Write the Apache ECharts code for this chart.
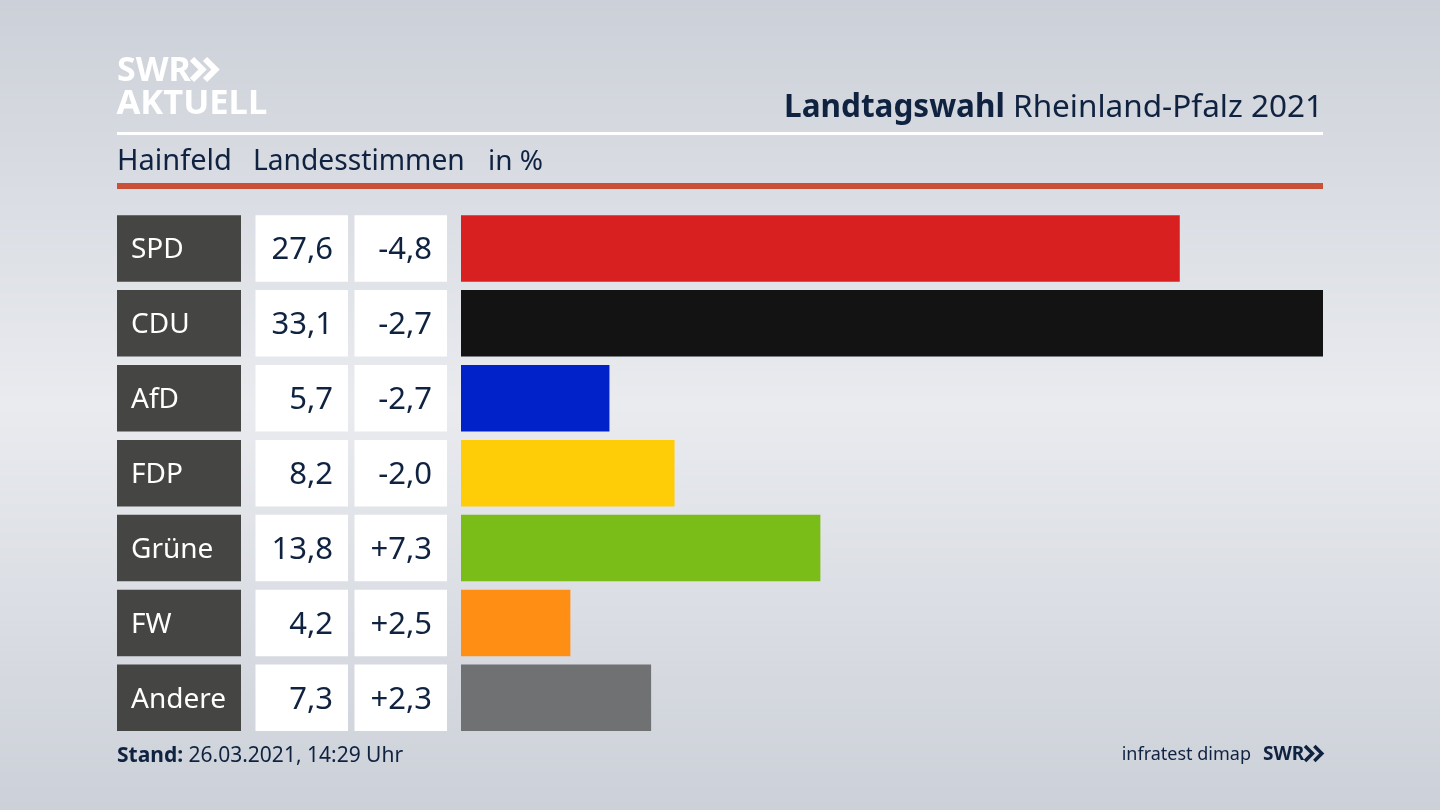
<!DOCTYPE html>
<html>
<head>
<meta charset="utf-8">
<title>Landtagswahl Rheinland-Pfalz 2021</title>
<style>
html, body { margin: 0; padding: 0; }
#chart { width: 1440px; height: 810px; }
</style>
<script src="https://cdn.jsdelivr.net/npm/echarts@6/dist/echarts.min.js"></script>
</head>
<body>
<div id="chart"></div>
<script>
const parties = ['SPD', 'CDU', 'AfD', 'FDP', 'Grüne', 'FW', 'Andere'];
const shares = [27.6, 33.1, 5.7, 8.2, 13.8, 4.2, 7.3];
const changes = [-4.8, -2.7, -2.7, -2.0, 7.3, 2.5, 2.3];
const partyColors = ['#d7201f', '#131313', '#0022c8', '#ffcc08', '#7abd18', '#ff8f14', '#707173'];

const navy = '#0f2240';
const fontName = 'Noto Sans';
const formatNum = v => v.toFixed(1).replace('.', ',');
const formatChange = v => (v > 0 ? '+' : '-') + formatNum(Math.abs(v));

// die Zeilen liegen in allen vier Spalten gleich
const rowTop = 211;
const rowBand = 74.9;
const barH = 66.5;
const columns = [
    {left: 117, width: 124},
    {left: 255.5, width: 92.5},
    {left: 354.5, width: 92.5},
    {left: 461, width: 862}
];

const grid = columns.map(c => ({
    left: c.left, width: c.width, top: rowTop, height: rowBand * parties.length
}));
const xAxis = columns.map((c, i) => ({
    type: 'value', gridIndex: i, min: 0, max: i === 3 ? 33.1 : 1, show: false
}));
const yAxis = columns.map((c, i) => ({
    type: 'category', gridIndex: i, data: parties, inverse: true, show: false
}));

function cellSeries(index, color, label) {
    return {
        type: 'bar',
        xAxisIndex: index,
        yAxisIndex: index,
        barWidth: barH,
        silent: true,
        animation: false,
        itemStyle: {color: color},
        label: label,
        data: parties.map(() => 1)
    };
}

const cellLabel = (formatter) => ({
    show: true,
    position: 'insideRight',
    distance: 15,
    offset: [0, 2],
    color: navy,
    fontFamily: fontName,
    fontSize: 31,
    formatter: formatter
});

const series = [
    cellSeries(0, '#454543', {
        show: true,
        position: 'insideLeft',
        distance: 14,
        offset: [0, 2],
        color: '#ffffff',
        fontFamily: fontName,
        fontSize: 28,
        formatter: p => parties[p.dataIndex]
    }),
    cellSeries(1, '#ffffff', cellLabel(p => formatNum(shares[p.dataIndex]))),
    cellSeries(2, '#ffffff', cellLabel(p => formatChange(changes[p.dataIndex]))),
    {
        type: 'bar',
        xAxisIndex: 3,
        yAxisIndex: 3,
        barWidth: barH,
        silent: true,
        animation: false,
        data: shares.map((v, i) => ({value: v, itemStyle: {color: partyColors[i]}}))
    }
];

function text(x, y, str, size, opts) {
    return {
        type: 'text',
        x: x,
        y: y,
        style: Object.assign({
            text: str,
            fill: navy,
            fontFamily: fontName,
            fontSize: size,
            textVerticalAlign: 'middle'
        }, opts || {})
    };
}

function chevrons(x, y, h, color, lineWidth) {
    return [0, 1].map(i => ({
        type: 'polyline',
        shape: {points: [[x + i * h * 0.62, y], [x + i * h * 0.62 + h * 0.5, y + h / 2], [x + i * h * 0.62, y + h]]},
        style: {stroke: color, fill: null, lineWidth: lineWidth}
    }));
}

const graphic = [
    // Logo
    text(117, 71, 'SWR', 34, {fill: '#ffffff', fontWeight: 'bold'}),
    ...chevrons(192, 59, 21, '#ffffff', 6),
    text(116.5, 104, 'AKTUELL', 34.5, {fill: '#ffffff', fontWeight: 'bold'}),

    // Kopfzeile
    text(1323, 108, '{b|Landtagswahl} Rheinland-Pfalz 2021', 31.5, {
        align: 'right',
        rich: {b: {fontWeight: 'bold', fontSize: 31.5, fontFamily: fontName, fill: navy}}
    }),
    {type: 'rect', shape: {x: 117, y: 132, width: 1206, height: 3}, style: {fill: '#ffffff'}},
    text(117, 162, 'Hainfeld', 29),
    text(253, 162, 'Landesstimmen', 28.2),
    text(488, 162, 'in %', 28),
    {type: 'rect', shape: {x: 117, y: 183, width: 1206, height: 6}, style: {fill: '#cb5038'}},

    // Fusszeile
    text(117, 756, '{b|Stand:} 26.03.2021, 14:29 Uhr', 21, {
        rich: {b: {fontWeight: 'bold', fontSize: 21, fontFamily: fontName, fill: navy}}
    }),
    text(1251, 755, 'infratest dimap', 18, {align: 'right'}),
    text(1263, 755, 'SWR', 19, {fontWeight: 'bold'}),
    ...chevrons(1305, 746, 15, navy, 3.5)
];

const chart = echarts.init(document.getElementById('chart'));
chart.setOption({
    animation: false,
    backgroundColor: {
        type: 'linear', x: 0, y: 0, x2: 0, y2: 1,
        colorStops: [
            {offset: 0, color: '#ccd0d8'},
            {offset: 0.5, color: '#e9ebef'},
            {offset: 1, color: '#ccd0d8'}
        ]
    },
    grid: grid,
    xAxis: xAxis,
    yAxis: yAxis,
    series: series,
    graphic: graphic
});
window.onresize = function () {
    chart.resize();
};
</script>
</body>
</html>
